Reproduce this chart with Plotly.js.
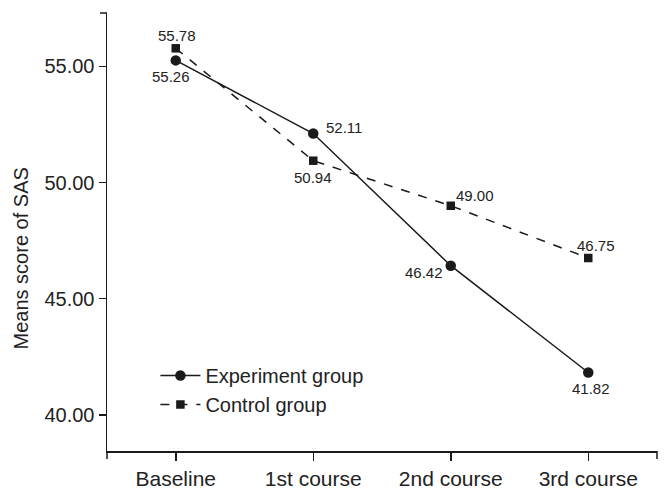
<!DOCTYPE html>
<html>
<head>
<meta charset="utf-8">
<script src="https://cdn.plot.ly/plotly-3.0.1.min.js"></script>
<style>html,body{margin:0;padding:0;background:#fff;}#chart{width:670px;height:496px;}</style>
</head>
<body>
<div id="chart"></div>
<script>
const categories = ["Baseline", "1st course", "2nd course", "3rd course"];
const experimentValues = [55.26, 52.11, 46.42, 41.82];
const controlValues = [55.78, 50.94, 49.00, 46.75];
const yTickValues = [40, 45, 50, 55];
const yTickLabels = ["40.00", "45.00", "50.00", "55.00"];

const FONT = "Liberation Sans, Arial, sans-serif";
const INK = "#1a1a1a";
const TXT = "#222";

// label offsets (pixels) relative to each point
const expOffsets = [[-5, 16], [31, -6], [-27, 7], [3, 16]];
const ctrlOffsets = [[1, -13], [0, 17], [24, -10], [8, -13]];

const traces = [
  {
    x: categories, y: experimentValues, name: "Experiment group",
    type: "scatter", mode: "lines+markers",
    line: {color: INK, width: 1.5},
    marker: {symbol: "circle", size: 10.5, color: INK},
    cliponaxis: false
  },
  {
    x: categories, y: controlValues, name: "Control group",
    type: "scatter", mode: "lines+markers",
    line: {color: INK, width: 1.5, dash: "dash"},
    marker: {symbol: "square", size: 8.5, color: INK},
    cliponaxis: false
  }
];

function labelAnn(cat, val, off) {
  return {x: cat, y: val, xref: "x", yref: "y", text: val.toFixed(2), showarrow: false,
          xanchor: "center", yanchor: "middle", xshift: off[0], yshift: -off[1],
          font: {family: FONT, size: 15, color: TXT}};
}
const annotations = [];
categories.forEach((c, i) => {
  annotations.push(labelAnn(c, experimentValues[i], expOffsets[i]));
  annotations.push(labelAnn(c, controlValues[i], ctrlOffsets[i]));
});
annotations.push({
  xref: "paper", yref: "paper", x: -0.156, y: 0.44, xanchor: "center", yanchor: "middle",
  text: "Means score of SAS", textangle: -90, showarrow: false,
  font: {family: FONT, size: 20, color: TXT}
});

const layout = {
  width: 670, height: 496,
  margin: {l: 107, r: 13, t: 13, b: 45},
  paper_bgcolor: "#fff", plot_bgcolor: "#fff",
  font: {family: FONT, color: TXT, size: 20},
  showlegend: true,
  legend: {x: 0.088, y: 0.217, xanchor: "left", yanchor: "top", bgcolor: "rgba(0,0,0,0)",
           font: {family: FONT, size: 20, color: TXT}, tracegroupgap: 0, itemwidth: 40},
  xaxis: {
    type: "category", range: [-0.5, 3.5],
    showline: true, linecolor: INK, linewidth: 1.5,
    ticks: "outside", ticklen: 8, tickwidth: 1.5, tickcolor: INK,
    showgrid: false, zeroline: false,
    tickfont: {family: FONT, size: 21, color: TXT}
  },
  yaxis: {
    range: [38.44, 57.3],
    tickvals: yTickValues, ticktext: yTickLabels,
    showline: true, linecolor: INK, linewidth: 1.5,
    ticks: "outside", ticklen: 7, tickwidth: 1.5, tickcolor: INK,
    showgrid: false, zeroline: false,
    tickfont: {family: FONT, size: 20, color: TXT}
  },
  annotations: annotations,
  shapes: [
    {type: "line", xref: "paper", yref: "paper", x0: -7/550, x1: 0, y0: 1, y1: 1, line: {color: INK, width: 1.5}},
    {type: "line", xref: "paper", yref: "paper", x0: 0, x1: 0, y0: 0, y1: -8/438, line: {color: INK, width: 1.5}},
    {type: "line", xref: "paper", yref: "paper", x0: 1, x1: 1, y0: 0, y1: -8/438, line: {color: INK, width: 1.5}}
  ]
};

Plotly.newPlot("chart", traces, layout, {displayModeBar: false, staticPlot: true});
</script>
</body>
</html>
